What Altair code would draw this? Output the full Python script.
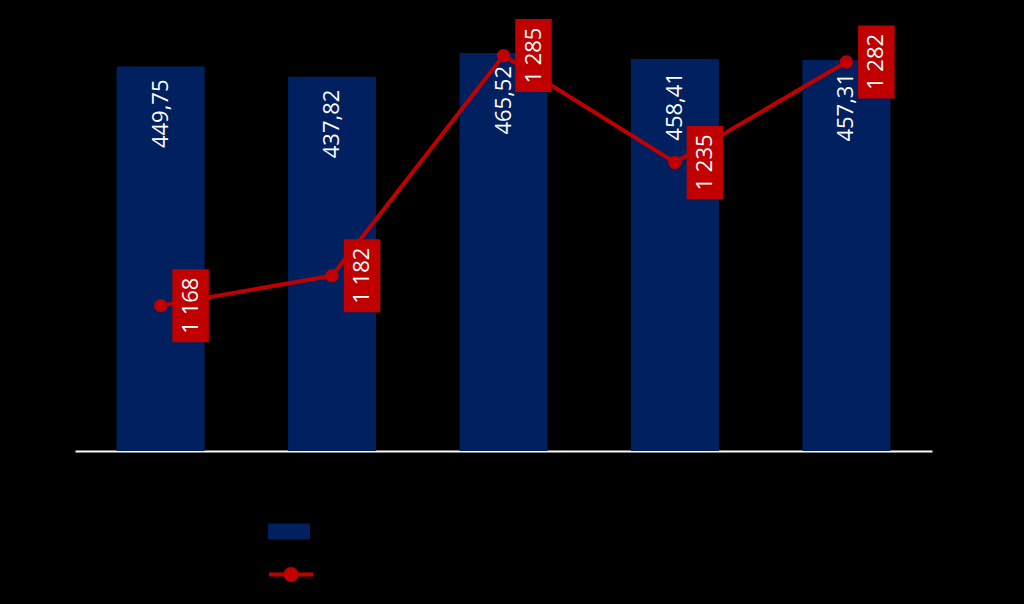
import altair as alt
import pandas as pd

categories = ["2019", "2020", "2021", "2022", "2023"]
bar_values = [449.75, 437.82, 465.52, 458.41, 457.31]
line_values = [1168, 1182, 1285, 1235, 1282]
bar_series = "Series 1"
line_series = "Series 2"

bar_labels = [f"{v:.2f}".replace(".", ",") for v in bar_values]
line_labels = [f"{v:,}".replace(",", " ") for v in line_values]

df = pd.DataFrame({
    "cat": categories,
    "bar": bar_values,
    "line": line_values,
    "bar_label": bar_labels,
    "line_label": line_labels,
    "bar_series": [bar_series] * len(categories),
    "line_series": [line_series] * len(categories),
})

NAVY = "#002060"
RED = "#C00000"
FONT = "Open Sans"

x_enc = alt.X("cat:N", sort=categories,
              scale=alt.Scale(paddingInner=0.487, paddingOuter=0.243),
              axis=alt.Axis(title=None, labelColor="black", ticks=False,
                            domainColor="white", domainWidth=2, labelFontSize=16))

base = alt.Chart(df)

y_bar = alt.Y("bar:Q", scale=alt.Scale(domain=[0, 500], nice=False, zero=True), axis=None)
y_line = alt.Y("line:Q", scale=alt.Scale(domain=[1100, 1300], nice=False, zero=False), axis=None)

bars = base.mark_bar().encode(
    x=x_enc,
    y=y_bar,
    color=alt.Color("bar_series:N",
                    scale=alt.Scale(domain=[bar_series], range=[NAVY]),
                    legend=alt.Legend(title=None, orient="none", legendX=193, legendY=487,
                                      symbolType="M-1,-0.38L1,-0.38L1,0.38L-1,0.38Z",
                                      symbolSize=1764, symbolStrokeWidth=0,
                                      labelColor="black", labelFontSize=18, padding=0)),
)
bar_text = base.mark_text(angle=270, align="right", baseline="middle", yOffset=13,
                          color="white", fontSize=22, font=FONT).encode(
    x=alt.X("cat:N", sort=categories),
    y=y_bar,
    text="bar_label:N",
)
bar_layer = alt.layer(bars, bar_text)

legend_path = ("M-1,0L1,0"
               "M0.25,0A0.25,0.25,0,1,1,-0.25,0A0.25,0.25,0,1,1,0.25,0"
               "M0.09,0A0.09,0.09,0,1,1,-0.09,0A0.09,0.09,0,1,1,0.09,0")

line = base.mark_line(strokeWidth=4).encode(
    x=alt.X("cat:N", sort=categories),
    y=y_line,
    stroke=alt.Stroke("line_series:N",
                      scale=alt.Scale(domain=[line_series], range=[RED]),
                      legend=alt.Legend(title=None, orient="none", legendX=192, legendY=527,
                                        symbolType=legend_path, symbolSize=1936,
                                        symbolStrokeWidth=4, labelColor="black",
                                        labelFontSize=18, padding=0)),
)
pts = base.mark_point(filled=True, shape="circle", size=177, color=RED, opacity=1).encode(
    x=alt.X("cat:N", sort=categories),
    y=y_line,
)
boxes = base.mark_point(filled=True, shape="M-0.5,-1L0.5,-1L0.5,1L-0.5,1Z", size=5329,
                        color=RED, opacity=1, xOffset=30).encode(
    x=alt.X("cat:N", sort=categories),
    y=y_line,
)
line_text = base.mark_text(angle=270, align="center", baseline="middle", xOffset=30,
                           color="white", fontSize=22, font=FONT).encode(
    x=alt.X("cat:N", sort=categories),
    y=y_line,
    text="line_label:N",
)
line_layer = alt.layer(line, pts, boxes, line_text)

chart = alt.layer(bar_layer, line_layer).resolve_scale(y="independent").properties(
    width=857, height=427.5,
    padding={"left": 75, "top": 23.5, "right": 92, "bottom": 153},
    autosize="none",
    background="black",
).configure(font=FONT).configure_view(strokeWidth=0, stroke="transparent")

chart.save("out.html", embed_options={"renderer": "svg", "actions": False})
